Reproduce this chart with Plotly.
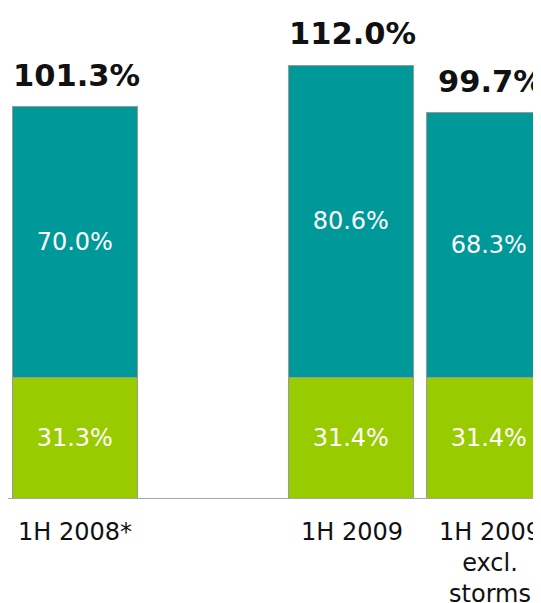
import plotly.graph_objects as go

categories = ["1H 2008*", "gap", "1H 2009", "1H 2009<br>excl.<br>storms"]
bottom_vals = [31.3, None, 31.4, 31.4]
top_vals = [70.0, None, 80.6, 68.3]
totals = [101.3, None, 112.0, 99.7]
bottom_labels = ["31.3%", "", "31.4%", "31.4%"]
top_labels = ["70.0%", "", "80.6%", "68.3%"]
total_labels = ["101.3%", "", "112.0%", "99.7%"]

FONT = "DejaVu Sans, Verdana, sans-serif"
TEAL = "#009999"
GREEN = "#99CC00"
EDGE = "#999999"

fig = go.Figure()
fig.add_trace(go.Bar(
    x=categories, y=bottom_vals, text=bottom_labels, width=0.905,
    marker=dict(color=GREEN, line=dict(color=EDGE, width=1.5)),
    textposition="inside", insidetextanchor="middle",
    textfont=dict(color="white", size=24, family=FONT),
    hoverinfo="skip", showlegend=False,
))
fig.add_trace(go.Bar(
    x=categories, y=top_vals, text=top_labels, width=0.905,
    marker=dict(color=TEAL, line=dict(color=EDGE, width=1.5)),
    textposition="inside", insidetextanchor="middle",
    textfont=dict(color="white", size=24, family=FONT),
    hoverinfo="skip", showlegend=False,
))

for c, t, lab in zip(categories, totals, total_labels):
    if t is None:
        continue
    fig.add_annotation(x=c, y=t, text=f"<b>{lab}</b>", showarrow=False,
                       yanchor="middle", yshift=32, xshift=1,
                       font=dict(size=30.5, color="#111111", family=FONT))
    fig.add_annotation(x=c, y=0, text=c, showarrow=False,
                       yanchor="top", yshift=-17, xshift=0,
                       font=dict(size=24, color="#111111", family=FONT))

fig.add_shape(type="line", xref="paper", yref="y", x0=0, x1=1, y0=0, y1=0,
              line=dict(color="#a6a6a6", width=2))

fig.update_layout(
    width=534, height=597, barmode="stack", bargap=0,
    margin=dict(l=0, r=0, t=0, b=106),
    plot_bgcolor="white", paper_bgcolor="white",
    xaxis=dict(type="category", categoryarray=categories, categoryorder="array",
               range=[-0.489, 3.380], showticklabels=False, showgrid=False,
               zeroline=False, showline=False, ticks=""),
    yaxis=dict(range=[0, 126.9], visible=False, showgrid=False, zeroline=False),
)
fig.write_html("out.html")
